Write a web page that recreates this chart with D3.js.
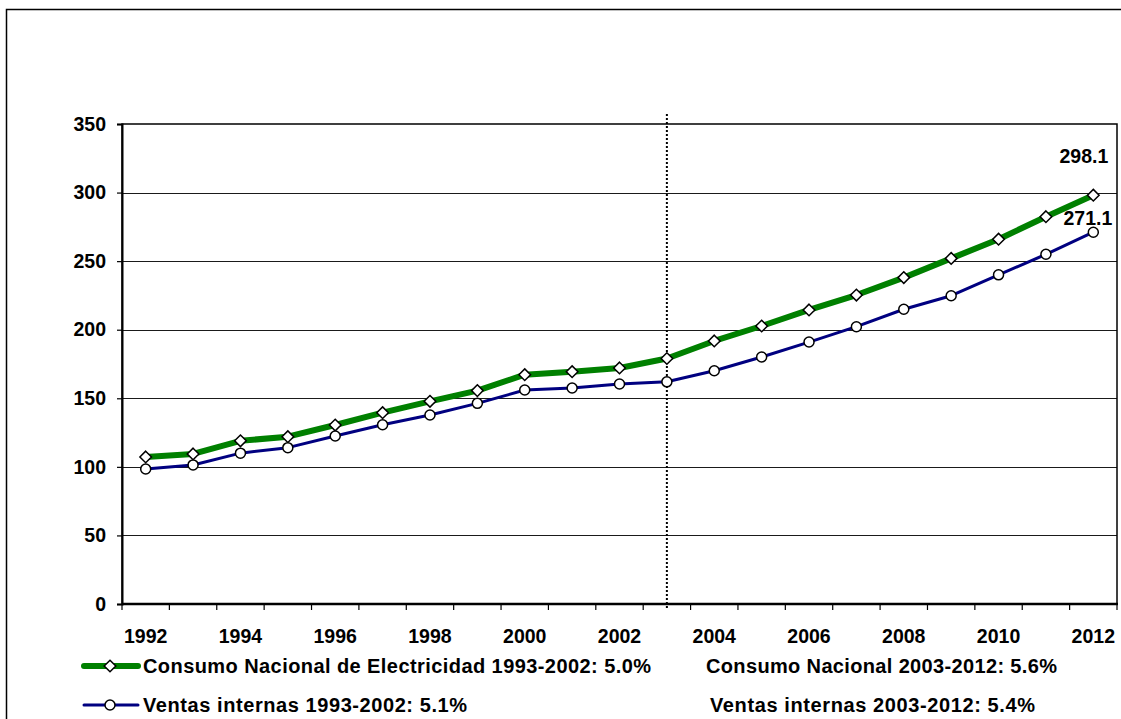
<!DOCTYPE html>
<html>
<head>
<meta charset="utf-8">
<script src="https://cdn.jsdelivr.net/npm/d3@7"></script>
<style>
  html, body { margin: 0; padding: 0; background: #fff; }
  svg { display: block; }
  text { font-family: "Liberation Sans", Arial, sans-serif; font-weight: bold; fill: #000; }
</style>
</head>
<body>
<svg id="chart" width="1121" height="719"></svg>
<script>
// Years on the category axis
const years = d3.range(1992, 2013);
// Consumo Nacional de Electricidad (TWh)
const consumo = [107.2, 109.4, 119.0, 122.0, 130.5, 139.5, 147.8, 155.6, 167.2, 169.4,
                 172.1, 179.0, 191.8, 202.7, 214.4, 225.3, 238.0, 252.0, 266.0, 282.4, 298.1];
// Ventas internas (TWh)
const ventas = [98.4, 101.4, 110.0, 114.0, 122.5, 130.7, 137.8, 146.3, 156.0, 157.5,
                160.4, 162.0, 170.1, 180.1, 191.0, 202.2, 214.9, 224.8, 240.0, 255.0, 271.1];
const yTicks = [0, 50, 100, 150, 200, 250, 300, 350];
const xTickLabels = [1992, 1994, 1996, 1998, 2000, 2002, 2004, 2006, 2008, 2010, 2012];
const splitYear = 2003;
const legendLeft = [
  "Consumo Nacional de Electricidad 1993-2002: 5.0%",
  "Ventas internas 1993-2002: 5.1%"
];
const legendRight = [
  "Consumo Nacional 2003-2012: 5.6%",
  "Ventas internas 2003-2012: 5.4%"
];

const svg = d3.select("#chart");
const plot = { left: 122, right: 1117, top: 124, bottom: 604 };

// Outer frame
svg.append("rect")
  .attr("x", 6.5).attr("y", 9.5)
  .attr("width", 1130).attr("height", 730)
  .attr("fill", "none").attr("stroke", "#000").attr("stroke-width", 1.5);

const x = d3.scaleBand().domain(years).range([plot.left, plot.right]).padding(0);
const y = d3.scaleLinear().domain([0, 350]).range([plot.bottom, plot.top]);
const cx = d => x(d) + x.bandwidth() / 2;

// Horizontal gridlines
svg.append("g")
  .selectAll("line")
  .data(yTicks.filter(v => v > 0 && v < 350))
  .join("line")
  .attr("x1", plot.left).attr("x2", plot.right)
  .attr("y1", d => Math.round(y(d)) + 0.5).attr("y2", d => Math.round(y(d)) + 0.5)
  .attr("stroke", "#1a1a1a").attr("stroke-width", 1);

// Plot area border
svg.append("rect")
  .attr("x", plot.left).attr("y", plot.top)
  .attr("width", plot.right - plot.left).attr("height", plot.bottom - plot.top)
  .attr("fill", "none").attr("stroke", "#000").attr("stroke-width", 1.5);

// Y axis
const yAxis = svg.append("g")
  .attr("transform", `translate(${plot.left},0)`)
  .call(d3.axisLeft(y).tickValues(yTicks).tickSize(5).tickPadding(11).tickFormat(d3.format("d")));
yAxis.select(".domain").attr("stroke", "#000").attr("stroke-width", 2);
yAxis.selectAll(".tick line").attr("stroke", "#000").attr("stroke-width", 1.2);
yAxis.selectAll(".tick text")
  .style("font-family", "'Liberation Sans', Arial, sans-serif")
  .style("font-weight", "bold").style("font-size", "19.5px").attr("fill", "#000");

// X axis: ticks at category boundaries, labels every two years
const xAxisG = svg.append("g").attr("transform", `translate(0,${plot.bottom})`);
xAxisG.append("line")
  .attr("x1", plot.left).attr("x2", plot.right + 1)
  .attr("y1", 0).attr("y2", 0)
  .attr("stroke", "#000").attr("stroke-width", 2.5);
xAxisG.selectAll("line.tick")
  .data(years.concat([2013]))
  .join("line").attr("class", "tick")
  .attr("x1", d => d === 2013 ? plot.right : x(d))
  .attr("x2", d => d === 2013 ? plot.right : x(d))
  .attr("y1", 0).attr("y2", 6)
  .attr("stroke", "#000").attr("stroke-width", 1.2);
xAxisG.selectAll("text")
  .data(xTickLabels)
  .join("text")
  .attr("x", d => cx(d)).attr("y", 39)
  .attr("text-anchor", "middle")
  .style("font-size", "19.5px")
  .text(d => d);

// Dotted divider between the two periods
svg.append("line")
  .attr("x1", cx(splitYear)).attr("x2", cx(splitYear))
  .attr("y1", 114).attr("y2", 609)
  .attr("stroke", "#000").attr("stroke-width", 2)
  .attr("stroke-dasharray", "2,2");

// Series lines
const line = d3.line().x((d, i) => cx(years[i])).y(d => y(d));
svg.append("path").datum(consumo).attr("d", line)
  .attr("fill", "none").attr("stroke", "#008000").attr("stroke-width", 6)
  .attr("stroke-linejoin", "round");
svg.append("path").datum(ventas).attr("d", line)
  .attr("fill", "none").attr("stroke", "#000080").attr("stroke-width", 3)
  .attr("stroke-linejoin", "round");

const diamond = (px, py, r) => `M${px},${py - r}L${px + r},${py}L${px},${py + r}L${px - r},${py}Z`;

// Markers
svg.append("g").selectAll("path")
  .data(consumo)
  .join("path")
  .attr("d", (d, i) => diamond(cx(years[i]), y(d), 5.8))
  .attr("fill", "#fff").attr("stroke", "#000").attr("stroke-width", 1.5);
svg.append("g").selectAll("circle")
  .data(ventas)
  .join("circle")
  .attr("cx", (d, i) => cx(years[i])).attr("cy", d => y(d)).attr("r", 5)
  .attr("fill", "#fff").attr("stroke", "#000").attr("stroke-width", 1.5);

// End-point value labels
const last = years.length - 1;
svg.append("text")
  .attr("x", cx(years[last]) + 15).attr("y", y(consumo[last]) - 32)
  .attr("text-anchor", "end").style("font-size", "19.5px")
  .text(consumo[last].toFixed(1));
svg.append("text")
  .attr("x", cx(years[last]) + 19).attr("y", y(ventas[last]) - 7)
  .attr("text-anchor", "end").style("font-size", "19.5px")
  .text(ventas[last].toFixed(1));

// Legend
const legendRows = [
  { y: 666, color: "#008000", width: 6, marker: "diamond", left: legendLeft[0], leftEnd: 651, right: legendRight[0], rx: 706, rEnd: 1057 },
  { y: 705, color: "#000080", width: 3, marker: "circle", left: legendLeft[1], leftEnd: 467, right: legendRight[1], rx: 710, rEnd: 1035 }
];
const lg = svg.append("g");
legendRows.forEach(r => {
  lg.append("line")
    .attr("x1", 84).attr("x2", 138).attr("y1", r.y).attr("y2", r.y)
    .attr("stroke", r.color).attr("stroke-width", r.width).attr("stroke-linecap", "round");
  if (r.marker === "diamond") {
    lg.append("path").attr("d", diamond(110, r.y, 5.8))
      .attr("fill", "#fff").attr("stroke", "#000").attr("stroke-width", 1.5);
  } else {
    lg.append("circle").attr("cx", 110).attr("cy", r.y).attr("r", 5)
      .attr("fill", "#fff").attr("stroke", "#000").attr("stroke-width", 1.5);
  }
  lg.append("text")
    .attr("x", 143).attr("y", r.y + 7)
    .style("font-size", "20px")
    .attr("textLength", r.leftEnd - 143).attr("lengthAdjust", "spacing")
    .text(r.left);
  lg.append("text")
    .attr("x", r.rx).attr("y", r.y + 7)
    .style("font-size", "20px")
    .attr("textLength", r.rEnd - r.rx).attr("lengthAdjust", "spacing")
    .text(r.right);
});
</script>
</body>
</html>
